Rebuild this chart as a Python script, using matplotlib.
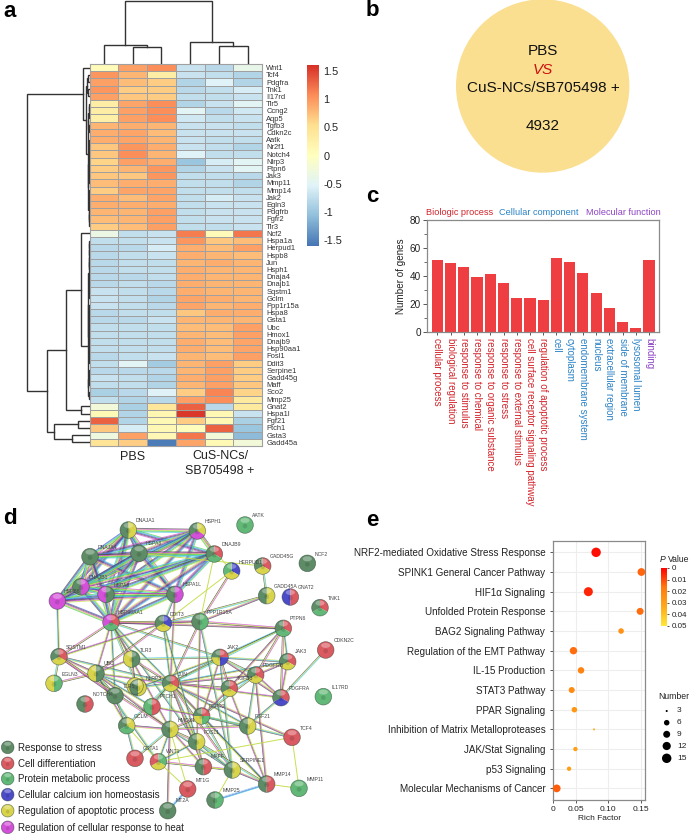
import itertools
import numpy as np
import matplotlib
matplotlib.use("Agg")
import matplotlib.pyplot as plt
from matplotlib.colors import LinearSegmentedColormap, Normalize
from matplotlib.cm import ScalarMappable
from matplotlib.patches import Wedge, Ellipse, Circle

plt.rcParams['font.family'] = ['Liberation Sans', 'DejaVu Sans']

W, H = 690, 835

# ---- panel a data
genes = ["Wnt1", "Tcf4", "Pdgfra", "Tnk1", "Il17rd", "Tlr5", "Ccng2", "Aqp5", "Tgfb3", "Cdkn2c", "Aatk",
         "Nr2f1", "Notch4", "Nlrp3", "Ptpn6", "Jak3", "Mmp11", "Mmp14", "Jak2", "Egln3", "Pdgfrb", "Fgfr2",
         "Tlr3", "Ncf2", "Hspa1a", "Herpud1", "Hspb8", "Jun", "Hsph1", "Dnaja4", "Dnajb1", "Sqstm1", "Gclm",
         "Ppp1r15a", "Hspa8", "Gsta1", "Ubc", "Hmox1", "Dnajb9", "Hsp90aa1", "Fosl1", "Ddit3", "Serpine1",
         "Gadd45g", "Maff", "Sco2", "Mmp25", "Gnat2", "Hspa1l", "Fgf21", "Ptch1", "Gsta3", "Gadd45a"]
expr = [
    [.05, .95, 1.05, -.7, -.8, -.4], [1.0, .8, .3, -.7, -.75, -.85], [.95, .75, .65, -.85, -.55, -.85],
    [1.0, .65, .65, -.8, -.75, -.6], [.95, .7, .65, -.75, -.75, -.7], [.3, .9, 1.05, -.85, -.7, -.5],
    [.3, .95, 1.05, -.5, -.8, -.65], [.25, .95, 1.05, -.65, -.75, -.7], [.8, .85, .8, -.7, -.7, -.75],
    [.85, .9, .75, -.7, -.7, -.7], [.85, .9, .8, -.7, -.75, -.75], [.7, 1.0, .85, -.7, -.75, -.85],
    [.7, 1.05, .8, -.55, -.75, -.75], [.6, .95, .85, -1.0, -.6, -.5], [.65, .8, 1.0, -.85, -.7, -.5],
    [.7, .7, 1.0, -.75, -.75, -.8], [.75, .85, .85, -.75, -.75, -.85], [.65, .9, .9, -.75, -.75, -.75],
    [.85, .75, .9, -.75, -.6, -.7], [.85, .85, .85, -.75, -.7, -.7], [.8, .8, .95, -.75, -.7, -.7],
    [.75, .8, .95, -.75, -.7, -.7], [.65, .75, .95, -.75, -.75, -.7],
    [-.35, -.75, -.7, 1.15, .08, 1.2], [-.75, -.75, -.7, 1.0, .7, .75], [-.8, -.8, -.6, .85, .75, .95],
    [-.8, -.75, -.7, .85, .8, .75], [-.8, -.75, -.75, .8, .85, .8], [-.8, -.75, -.75, .85, .8, .8],
    [-.8, -.8, -.75, .85, .8, .8], [-.8, -.75, -.8, .85, .8, .8], [-.7, -.75, -.8, .85, .8, .8],
    [-.7, -.75, -.85, .9, .85, .8], [-.7, -.75, -.8, .9, .8, .85], [-.8, -.75, -.75, .7, .85, .85],
    [-.8, -.8, -.7, .8, .8, .8], [-.75, -.75, -.75, .75, .75, .95], [-.75, -.75, -.75, .8, .75, .95],
    [-.75, -.75, -.75, .85, .75, .9], [-.75, -.75, -.75, .85, .75, .9], [-.8, -.75, -.7, .8, .75, .95],
    [-.75, -.5, -.95, .8, .95, .65], [-.8, -.8, -.8, .8, .95, .65], [-.7, -.75, -.85, .85, .95, .65],
    [-.75, -.75, -.85, .8, .95, .7], [-.9, -.8, -.55, .65, 1.1, .6], [-.75, -.85, -.8, .95, 1.05, .35],
    [-.25, -.9, .4, 1.3, -.8, .35], [.1, -.85, .15, 1.55, .12, -.7], [1.3, -.85, .12, .65, .12, -.9],
    [.7, -.6, .12, .03, 1.3, -1.0], [-.3, .95, .12, 1.2, -.25, -1.1], [.45, .65, -1.55, .9, .1, -.25]]
heat_colors = ["#4575B4", "#91BFDB", "#E0F3F8", "#FFFFBF", "#FEE090", "#FC8D59", "#D73027"]
heat_ticks = [1.5, 1, 0.5, 0, -0.5, -1, -1.5]

# ---- panel c data
go_terms = ["cellular process", "biological regulation", "response to stimulus", "response to chemical",
            "response to organic substance", "response to stress", "response to external stimulus",
            "cell surface receptor signaling pathway", "regulation of apoptotic process", "cell", "cytoplasm",
            "endomembrane system", "nucleus", "extracellular region", "side of membrane", "lysosomal lumen",
            "binding"]
go_counts = [51, 49, 46, 39, 41, 35, 24, 24, 23, 53, 50, 42, 28, 17, 7, 3, 51]
go_groups = [0] * 9 + [1] * 7 + [2]
group_names = ["Biologic process", "Cellular component", "Molecular function"]
group_colors = ["#D2232A", "#2B83C6", "#8E44C4"]

# ---- panel d data, layout read in 1/3 px
node_names = ["DNAJA1", "HSPH1", "AATK", "DNAJA4", "HSPA8b", "DNAJB9", "HERPUD1", "GADD45G", "NCF2", "DNAJB1",
              "HSPB8", "HSPA8", "HSPA1L", "GADD45A", "GNAT2", "TNK1", "HSP90AA1", "DDIT3", "PPP1R15A", "PTPN6",
              "CDKN2C", "SQSTM1", "TLR3", "JAK2", "JAK3", "UBC", "EGLN3", "PDGFRB", "TLR5", "NLRP3", "JUN", "TGFB3",
              "PDGFRA", "IL17RD", "NOTCH4", "NODE", "PTCH1", "FGFR2", "FGF21", "GCLM", "HMOX1", "TCF4", "FOSL1",
              "GSTA1", "WNT1", "MAFF", "SERPINE1", "MT1G", "MMP14", "MMP11", "MMP25", "MT2A"]
node_x = [385, 592, 735, 270, 417, 643, 695, 788, 922, 243, 172, 318, 525, 800, 871, 960, 333, 490, 600, 850,
          977, 177, 395, 660, 863, 288, 162, 767, 405, 414, 512, 688, 843, 970, 345, 255, 456, 605, 743, 380,
          510, 876, 590, 405, 475, 610, 697, 563, 800, 897, 645, 503]
node_y = [90, 93, 75, 170, 160, 162, 213, 198, 190, 260, 303, 283, 283, 287, 291, 323, 367, 370, 365, 385,
          450, 470, 477, 472, 485, 520, 550, 525, 558, 563, 550, 565, 593, 590, 587, 612, 620, 648, 678, 677,
          688, 712, 725, 775, 785, 800, 810, 867, 852, 865, 900, 932]
node_cats = ["AS", "AHS", "P", "S", "S", "DPS", "CAP", "DAS", "S", "HS", "H", "SH", "HS", "AS", "DC", "DPS",
             "DPH", "CAS", "PS", "DPS", "D", "DAS", "SA", "DCAS", "DAS", "SA", "PA", "DAS", "A", "AS", "DAS", "DAS",
             "DCS", "P", "S", "DS", "DP", "DPAS", "AS", "APS", "AS", "D", "AS", "D", "PAD", "DS", "AS", "D", "DS",
             "P", "PS", "S"]
label_text = ["DNAJA1", "HSPH1", "AATK", "DNAJA4", "HSPA8", "DNAJB9", "HERPUD1", "GADD45G", "NCF2", "DNAJB1",
              "HSPB8", "HSPA8", "HSPA1L", "GADD45A", "GNAT2", "TNK1", "HSP90AA1", "DDIT3", "PPP1R15A", "PTPN6",
              "CDKN2C", "SQSTM1", "TLR3", "JAK2", "JAK3", "UBC", "EGLN3", "PDGFRB", "TLR5", "NLRP3", "JUN", "TGFB3",
              "PDGFRA", "IL17RD", "NOTCH4", "", "PTCH1", "FGFR2", "FGF21", "GCLM", "HMOX1", "TCF4", "FOSL1",
              "GSTA1", "WNT1", "MAFF", "SERPINE1", "MT1G", "MMP14", "MMP11", "MMP25", "MT2A"]
label_x = [408, 615, 755, 293, 437, 665, 717, 810, 945, 267, 190, 340, 548, 822, 893, 982, 353, 510, 620, 870,
           1000, 198, 418, 682, 885, 311, 185, 788, 367, 436, 535, 710, 865, 995, 277, 0, 478, 627, 765, 402,
           533, 898, 612, 428, 497, 632, 720, 586, 822, 920, 668, 526]
label_y = [60, 65, 47, 142, 130, 132, 187, 170, 162, 232, 275, 256, 255, 258, 262, 295, 338, 342, 336, 356,
           420, 441, 450, 442, 455, 491, 523, 497, 558, 535, 522, 536, 565, 563, 585, 0, 591, 620, 648, 648,
           660, 684, 696, 746, 755, 771, 783, 840, 823, 838, 872, 903]
chaperones = ["DNAJA1", "HSPH1", "DNAJA4", "HSPA8b", "DNAJB9", "DNAJB1", "HSPB8", "HSPA8", "HSPA1L", "HSP90AA1"]
thin_edges = {
    "HSP90AA1": ["SQSTM1", "UBC", "TLR3", "NLRP3", "JUN", "DDIT3", "PPP1R15A", "HMOX1", "FOSL1", "JAK2", "NOTCH4", "PTPN6"],
    "JUN": ["TLR3", "UBC", "SQSTM1", "JAK2", "JAK3", "PDGFRB", "TGFB3", "PDGFRA", "FGFR2", "HMOX1", "FOSL1", "MAFF",
            "SERPINE1", "MMP14", "PTCH1", "GCLM", "DDIT3", "TCF4", "PPP1R15A", "HSPA1L", "NLRP3", "PTPN6", "FGF21"],
    "UBC": ["SQSTM1", "EGLN3", "TLR3", "NLRP3", "NOTCH4", "PTCH1", "HMOX1", "DDIT3", "GCLM", "WNT1"],
    "SQSTM1": ["EGLN3", "HSPB8", "NOTCH4", "HMOX1", "DDIT3"],
    "JAK2": ["JAK3", "PDGFRB", "PTPN6", "PDGFRA", "TGFB3", "FGFR2", "SERPINE1", "TLR3", "NLRP3"],
    "PDGFRB": ["JAK3", "PTPN6", "PDGFRA", "FGF21", "FGFR2", "TGFB3", "MMP14"],
    "PDGFRA": ["PTPN6", "JAK3", "FGF21", "CDKN2C"],
    "PTPN6": ["JAK3", "TGFB3", "PPP1R15A"],
    "DDIT3": ["PPP1R15A", "HSPA1L", "GADD45A", "FOSL1"],
    "PPP1R15A": ["GADD45A", "HERPUD1", "FOSL1", "SERPINE1"],
    "GADD45A": ["GADD45G"],
    "FGFR2": ["FGF21", "TGFB3", "HMOX1", "PTCH1", "TCF4", "SERPINE1", "MMP14"],
    "HMOX1": ["GCLM", "FOSL1", "MAFF", "SERPINE1", "GSTA1", "WNT1", "MT2A", "FGF21"],
    "FOSL1": ["MAFF", "SERPINE1", "MMP14", "WNT1"],
    "SERPINE1": ["MMP14", "WNT1"],
    "MMP14": ["TGFB3"],
    "GCLM": ["GSTA1", "NOTCH4"],
    "TLR5": ["NLRP3", "TLR3"],
}
yellow_edges = [("TCF4", "MMP11"), ("MMP14", "MMP11"), ("MT1G", "WNT1"), ("DNAJB9", "PPP1R15A"),
                ("GADD45G", "HSPA8b"), ("SERPINE1", "MAFF"), ("SERPINE1", "MMP25"), ("HMOX1", "MT1G"),
                ("HERPUD1", "HSPH1"), ("TCF4", "WNT1"), ("GCLM", "WNT1"), ("DDIT3", "HERPUD1")]
blue_edges = [("MMP14", "MMP25"), ("MT1G", "MT2A")]
edge_colors = ["#4A4A4A", "#D64FD6", "#C4DE4A", "#4FD14F", "#45C8E0", "#5050D0"]
thin_colors = ["#4A4A4A", "#D64FD6", "#C4DE4A", "#5A5A5A", "#45C8E0", "#C4DE4A"]
cat_colors = {"S": "#5E8C66", "D": "#D95A60", "P": "#62B876", "C": "#4C4CC8", "A": "#D8D44C", "H": "#D350D8"}
legend_cats = ["S", "D", "P", "C", "A", "H"]
legend_names = ["Response to stress", "Cell differentiation", "Protein metabolic process",
                "Cellular calcium ion homeostasis", "Regulation of apoptotic process",
                "Regulation of cellular response to heat"]

# ---- panel e data
pathways = ["NRF2-mediated Oxidative Stress Response", "SPINK1 General Cancer Pathway", "HIF1\u03b1 Signaling",
            "Unfolded Protein Response", "BAG2 Signaling Pathway", "Regulation of the EMT Pathway", "IL-15 Production",
            "STAT3 Pathway", "PPAR Signaling", "Inhibition of Matrix Metalloproteases", "JAK/Stat Signaling",
            "p53 Signaling", "Molecular Mechanisms of Cancer"]
rich_factor = [.081, .151, .069, .149, .1196, .046, .0577, .0433, .0474, .0778, .049, .0392, .0201]
p_values = [.002, .014, .005, .015, .025, .015, .02, .023, .027, .035, .03, .03, .013]
gene_number = [15, 11, 14, 9, 6, 10, 8, 7, 6, 3, 5, 5, 11]
number_ticks = [3, 6, 9, 12, 15]
number_diam = [2.0, 5.4, 6.8, 8.0, 9.2]
p_ticks = [0, .01, .02, .03, .04, .05]
p_labels = ["0", "0.01", "0.02", "0.03", "0.04", "0.05"]
x_ticks_e = [.05, .10, .15]
x_labels_e = ["0.05", "0.10", "0.15"]


def px_axes(x0, y0, x1, y1, **kw):
    return fig.add_axes([x0 / W, 1 - y1 / H, (x1 - x0) / W, (y1 - y0) / H], **kw)


def comb(a, b, h):
    if a == b:
        return a
    m = (a + b) // 2
    return (h, comb(a, m, h * .6), comb(m + 1, b, h * .6))


def draw_tree(ax, node, horizontal):
    # returns leaf-axis position of node, height of node
    if not isinstance(node, tuple):
        return node, 0
    h, left, right = node
    p1, h1 = draw_tree(ax, left, horizontal)
    p2, h2 = draw_tree(ax, right, horizontal)
    xs, ys = [p1, p1, p2, p2], [h1, h, h, h2]
    if horizontal:
        ax.plot(ys, xs, color="#333333", lw=1.0, solid_joinstyle="miter")
    else:
        ax.plot(xs, ys, color="#333333", lw=1.0, solid_joinstyle="miter")
    return (p1 + p2) / 2, h


def ptext(x, y, s, **kw):
    kw.setdefault("ha", "left")
    kw.setdefault("va", "center")
    fig.text(x / W, 1 - y / H, s, **kw)


fig = plt.figure(figsize=(W / 100, H / 100), dpi=100)

# panel letters
for letter, lx, ly in [("a", 3, 11.5), ("b", 366, 10), ("c", 366, 196), ("d", 3, 519), ("e", 366, 520)]:
    ptext(lx, ly, letter, fontsize=16, fontweight="bold", color="black")

# ---- a: heatmap
cmap = LinearSegmentedColormap.from_list("heat", heat_colors)
norm = Normalize(-1.6, 1.6)
ax = px_axes(89.5, 64, 262, 446)
data = np.array(expr)
ax.pcolormesh(np.arange(7), np.arange(len(genes) + 1), data, cmap=cmap, norm=norm, edgecolors="#A0A0A0", linewidth=0.7)
ax.set_ylim(len(genes), 0)
ax.set_xticks([])
ax.set_yticks(np.arange(len(genes)) + .5)
ax.set_yticklabels(genes, fontsize=5.4, color="#333333")
ax.yaxis.tick_right()
ax.tick_params(axis="y", length=0, pad=3)
for s in ax.spines.values():
    s.set_color("#A0A0A0")
    s.set_linewidth(0.8)

col_ax = px_axes(89.5, 0, 262, 63.5)
col_tree = (62.5, (18.5, 0, (16.5, 1, 2)), (21.5, 3, (17.5, 4, 5)))
draw_tree(col_ax, col_tree, False)
col_ax.set_xlim(-.5, 5.5)
col_ax.set_ylim(0, 63.5)
col_ax.axis("off")

row_ax = px_axes(20, 64, 89.5, 446)
row_tree = (63,
            (6.5, 0, (3.5, comb(1, 4, 2.5), (1.6, comb(5, 9, 1.4), comb(10, 22, 1.2)))),
            (43,
             (23.5,
              (9, 23, (1.6, comb(24, 41, 1.2), comb(42, 46, 1.2))),
              (9, 47, 48)),
             (36, (12, 49, 50), (18, 51, 52))))
draw_tree(row_ax, row_tree, True)
row_ax.set_xlim(69.5, 0)
row_ax.set_ylim(52.5, -.5)
row_ax.axis("off")

ptext(133, 457, "PBS", fontsize=9, ha="center", color="#222222")
ptext(220, 456, "CuS-NCs/", fontsize=9, ha="center", color="#222222")
ptext(220, 471, "SB705498 +", fontsize=9, ha="center", color="#222222")

cax = px_axes(307, 65, 319, 246)
cb = fig.colorbar(ScalarMappable(norm=norm, cmap=cmap), cax=cax)
cb.set_ticks(heat_ticks)
cb.set_ticklabels(["1.5", "1", "0.5", "0", "-0.5", "-1", "-1.5"], fontsize=7.8, color="#222222")
cax.tick_params(length=0, pad=3)
cb.outline.set_visible(False)

# ---- b: circle
b_ax = px_axes(0, 0, W, H)
b_ax.set_xlim(0, W)
b_ax.set_ylim(H, 0)
b_ax.axis("off")
b_ax.patch.set_alpha(0)
b_ax.add_patch(Circle((542.7, 86), 86.7, color="#FBDF90", lw=0))
b_ax.set_zorder(-1)
ptext(543, 51, "PBS", fontsize=11, ha="center", color="#111111")
ptext(543, 70, "VS", fontsize=11, ha="center", color="#CC1111", style="italic")
ptext(543, 88.5, "CuS-NCs/SB705498 +", fontsize=11, ha="center", color="#111111")
ptext(543, 126, "4932", fontsize=11, ha="center", color="#111111")

# ---- c: bars
c_ax = px_axes(427.3, 220, 658.7, 331.7)
c_ax.bar(range(len(go_terms)), go_counts, width=.84, color="#EF3E42")
c_ax.set_xlim(-.76, 16.73)
c_ax.set_ylim(0, 80)
c_ax.set_yticks([0, 20, 40, 60, 80])
c_ax.set_yticks([10, 30, 50, 70], minor=True)
c_ax.set_xticks(range(len(go_terms)))
c_ax.set_xticklabels(go_terms, rotation=270, fontsize=7.05, ha="center", va="top")
for lab, g in zip(c_ax.get_xticklabels(), go_groups):
    lab.set_color(group_colors[g])
c_ax.tick_params(axis="x", length=2.5, width=.7, pad=2, color="#555555")
c_ax.tick_params(axis="y", length=3, width=.7, labelsize=7.2, pad=1.5, color="#555555", labelcolor="#222222")
c_ax.tick_params(axis="y", which="minor", length=2, width=.6, color="#555555")
c_ax.set_ylabel("Number of genes", fontsize=7.1, color="#222222")
c_ax.yaxis.set_label_coords(-0.091, 0.5)
for s in c_ax.spines.values():
    s.set_color("#8A8A8A")
    s.set_linewidth(.9)
for name, gx, col in zip(group_names, [426, 499, 586], group_colors):
    ptext(gx, 212.7, name, fontsize=6.6, color=col)

# ---- d: network
d_ax = px_axes(0, 500, 350, 835)
d_ax.set_xlim(0, 1050)
d_ax.set_ylim(1005, 0)
d_ax.axis("off")
d_ax.set_zorder(2)
d_ax.patch.set_alpha(0)
pos = {n: (x, y) for n, x, y in zip(node_names, node_x, node_y)}


def draw_edge(a, b, colors, gap, lw, alpha):
    (x1, y1), (x2, y2) = pos[a], pos[b]
    dx, dy = x2 - x1, y2 - y1
    n = np.hypot(dx, dy)
    ox, oy = -dy / n, dx / n
    for k, c in enumerate(colors):
        off = (k - (len(colors) - 1) / 2) * gap
        d_ax.plot([x1 + ox * off, x2 + ox * off], [y1 + oy * off, y2 + oy * off], color=c, lw=lw, alpha=alpha, zorder=1)


for i, (a, b) in enumerate(itertools.combinations(chaperones, 2)):
    draw_edge(a, b, [edge_colors[(i + j) % 6] for j in range(5)], 2.6, .7, .7)
i = 0
for a, others in thin_edges.items():
    for b in others:
        draw_edge(a, b, [thin_colors[(i + j) % 6] for j in (0, 2, 1)], 2.2, .5, .85)
        i += 1
for a, b in yellow_edges:
    draw_edge(a, b, ["#C4DE4A"], 0, .7, .95)
for a, b in blue_edges:
    draw_edge(a, b, ["#45C8E0", "#5A7AE0", "#A0D0F0"], 2.2, .6, .9)


def draw_node(x, y, cats, r=25):
    step = 360 / len(cats)
    for k, c in enumerate(cats):
        d_ax.add_patch(Wedge((x, y), r, -90 + k * step, -90 + (k + 1) * step, color=cat_colors[c], lw=0, zorder=3))
    d_ax.add_patch(Circle((x, y), r, fill=False, ec="#33443A", lw=.5, alpha=.6, zorder=4))
    d_ax.add_patch(Ellipse((x, y - r * .55), r * 1.1, r * .6, color="white", alpha=.32, lw=0, zorder=4))
    d_ax.add_patch(Circle((x, y + 3), r * .28, color="#000000", alpha=.12, lw=0, zorder=4))


for x, y, cats in zip(node_x, node_y, node_cats):
    draw_node(x, y, cats)
for s, x, y in zip(label_text, label_x, label_y):
    if s:
        d_ax.text(x, y, s, fontsize=3.7, color="#444444", va="center", zorder=5)
for k, (c, name) in enumerate(zip(legend_cats, legend_names)):
    ly = [742, 790, 836, 884, 932, 982][k]
    draw_node(23, ly, c, r=19)
    d_ax.text(55, ly + 2, name, fontsize=7, color="#222222", va="center", zorder=5)

# ---- e: bubbles
e_ax = px_axes(553, 541, 645.3, 800)
p_cmap = LinearSegmentedColormap.from_list("pval", ["#FF0000", "#FF7A10", "#FFA818", "#FFE838"])
p_norm = Normalize(0, .05)
y_pos = np.arange(len(pathways))
diam = np.interp(gene_number, number_ticks, number_diam)
e_ax.scatter(rich_factor, y_pos, s=(diam * .72) ** 2 * 1.05, c=p_values, cmap=p_cmap, norm=p_norm, lw=0, zorder=3, clip_on=False)
e_ax.set_xlim(.0144, .157)
e_ax.set_ylim(12.59, -.576)
e_ax.set_yticks(y_pos)
e_ax.set_yticklabels(pathways, fontsize=7.1, color="#222222")
e_ax.set_xticks([.0144] + x_ticks_e)
e_ax.set_xticklabels(["0"] + x_labels_e, fontsize=6, color="#222222")
e_ax.tick_params(axis="y", length=2.5, width=.7, pad=3, color="#555555")
e_ax.tick_params(axis="x", length=2.5, width=.7, pad=2, color="#555555")
e_ax.grid(True, color="#EDEDED", lw=.8, zorder=0)
e_ax.set_axisbelow(True)
e_ax.set_xlabel("Rich Factor", fontsize=6, labelpad=1.5, color="#222222")
for s in e_ax.spines.values():
    s.set_color("#8A8A8A")
    s.set_linewidth(.9)

pax = px_axes(661.3, 568, 667.3, 625.7)
pb = fig.colorbar(ScalarMappable(norm=p_norm, cmap=p_cmap), cax=pax)
pb.set_ticks(p_ticks)
pb.set_ticklabels(p_labels, fontsize=5.8, color="#222222")
pax.invert_yaxis()
pax.tick_params(length=1.5, width=.5, pad=1.5)
pb.outline.set_visible(False)
ptext(660, 559, "P", fontsize=6.2, color="#222222", style="italic")
ptext(668, 559, "Value", fontsize=6.2, color="#222222")

# size legend
ptext(658, 696.5, "Number", fontsize=6.2, color="#222222")
n_ax = px_axes(660, 705, 690, 765)
n_ax.set_xlim(660, 690)
n_ax.set_ylim(765, 705)
n_ax.axis("off")
n_y = [711, 722.7, 734.3, 746, 758.3]
n_ax.scatter([666.7] * 5, n_y, s=(np.array(number_diam) * .72) ** 2 * 1.05, color="black", lw=0)
for v, yy in zip(number_ticks, n_y):
    n_ax.text(677, yy, str(v), fontsize=6, color="#222222", va="center")

fig.savefig("out.png", dpi=100)
